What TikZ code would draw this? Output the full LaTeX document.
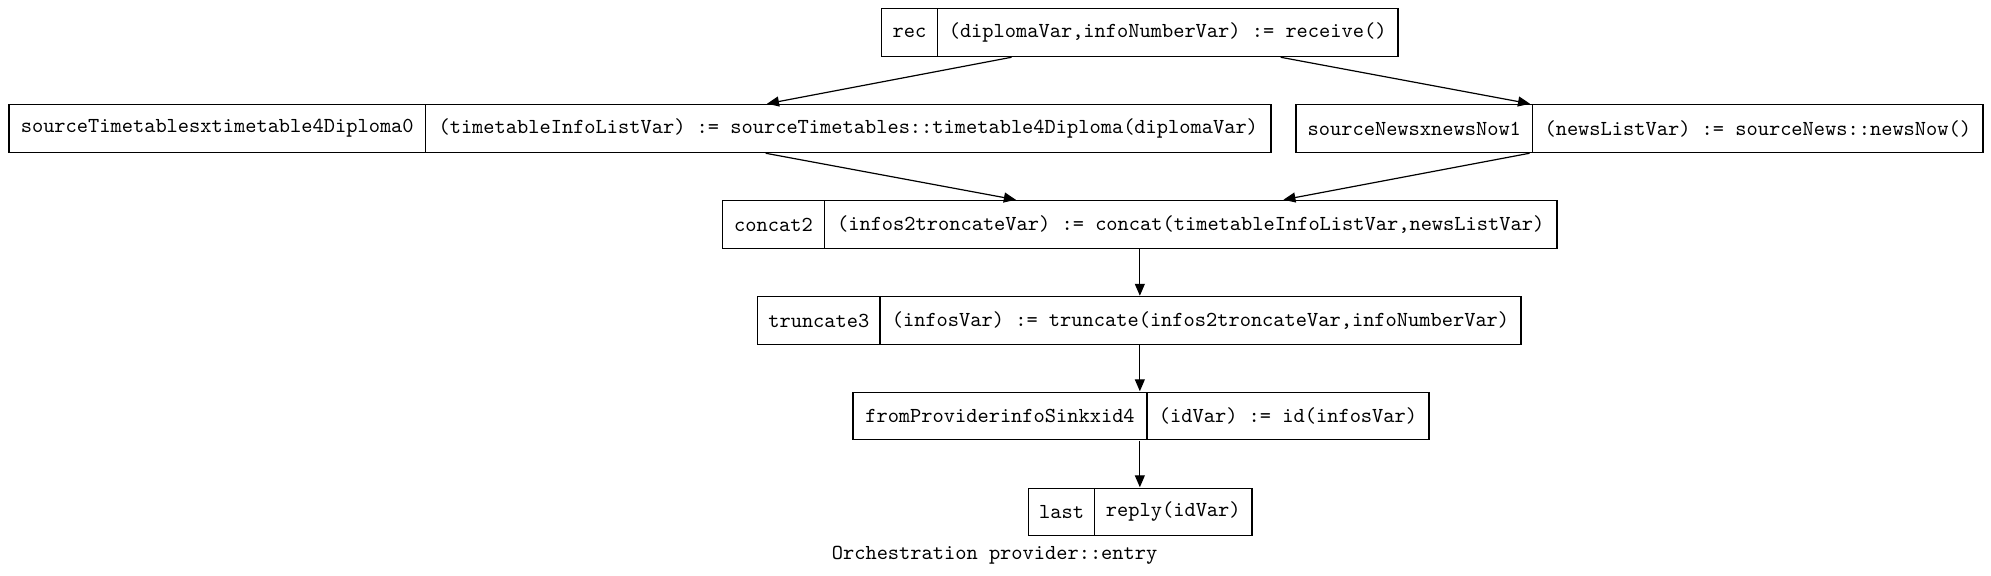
\documentclass[tikz,border=0pt]{standalone}
\usepackage{fontspec}
\usetikzlibrary{arrows.meta,fit}
\begin{document}
\begin{tikzpicture}[x=0.5pt,y=-0.5pt,
  fld/.style={draw, line width=0.6pt, minimum height=23.75pt, inner sep=1pt,
              font=\ttfamily\fontsize{10.69}{12}\selectfont},
  whole/.style={inner sep=0pt},
  conn/.style={draw, line width=0.6pt, -{Triangle[length=6pt,width=5pt]}},
  captxt/.style={font=\ttfamily\fontsize{10.69}{12}\selectfont, inner sep=0pt, anchor=base}]
\useasboundingbox (0,0) rectangle (1991,575);

% rec
\node[fld, minimum width=27.8pt]   (recA) at (909.5,32.5)   {rec};
\node[fld, minimum width=230.35pt] (recB) at (1167.65,32.5) {(diplomaVar,infoNumberVar) := receive()};
\node[whole, fit=(recA)(recB)] (rec) {};

% sourceTimetables
\node[fld, minimum width=208.25pt] (sTA) at (217.25,128.5) {sourceTimetablesxtimetable4Diploma0};
\node[fld, minimum width=422.75pt] (sTB) at (848.25,128.5) {(timetableInfoListVar) := sourceTimetables::timetable4Diploma(diplomaVar)};
\node[whole, fit=(sTA)(sTB)] (sT) {};

% sourceNews
\node[fld, minimum width=118.3pt] (sNA) at (1414.3,128.5) {sourceNewsxnewsNow1};
\node[fld, minimum width=225.2pt] (sNB) at (1757.8,128.5) {(newsListVar) := sourceNews::newsNow()};
\node[whole, fit=(sNA)(sNB)] (sN) {};

% concat
\node[fld, minimum width=50.8pt]   (concatA) at (773.5,224.5)   {concat2};
\node[fld, minimum width=366.35pt] (concatB) at (1190.65,224.5) {(infos2troncateVar) := concat(timetableInfoListVar,newsListVar)};
\node[whole, fit=(concatA)(concatB)] (concat) {};

% truncate
\node[fld, minimum width=61.15pt] (truncA) at (818.85,320.5) {truncate3};
\node[fld, minimum width=320.5pt] (truncB) at (1200.5,320.5) {(infosVar) := truncate(infos2troncateVar,infoNumberVar)};
\node[whole, fit=(truncA)(truncB)] (trunc) {};

% fromProvider
\node[fld, minimum width=147pt] (fpA) at (1000,416) {fromProviderinfoSinkxid4};
\node[fld, minimum width=141pt] (fpB) at (1288,416) {(idVar) := id(infosVar)};
\node[whole, fit=(fpA)(fpB)] (fp) {};

% last
\node[fld, minimum width=33pt]   (lastA) at (1061.6,512) {last};
\node[fld, minimum width=78.7pt] (lastB) at (1173.3,512) {reply(idVar)};
\node[whole, fit=(lastA)(lastB)] (last) {};

% caption
\node[captxt] (cap) at (994.6,559) {Orchestration provider::entry};

% connectors
\draw[conn] ([xshift=-64.15pt]rec.south) -- ([xshift=63.5pt]sT.north);
\draw[conn] ([xshift=70.4pt]rec.south) -- ([xshift=-54.75pt]sN.north);
\draw[conn] ([xshift=62.85pt]sT.south) -- ([xshift=-62pt]concat.north);
\draw[conn] ([xshift=-55pt]sN.south) -- ([xshift=71.8pt]concat.north);
\draw[conn] (concat.south) -- (concat.south |- trunc.north);
\draw[conn] (concat.south |- trunc.south) -- (concat.south |- fp.north);
\draw[conn] (concat.south |- fp.south) -- (concat.south |- last.north);
\end{tikzpicture}
\end{document}
